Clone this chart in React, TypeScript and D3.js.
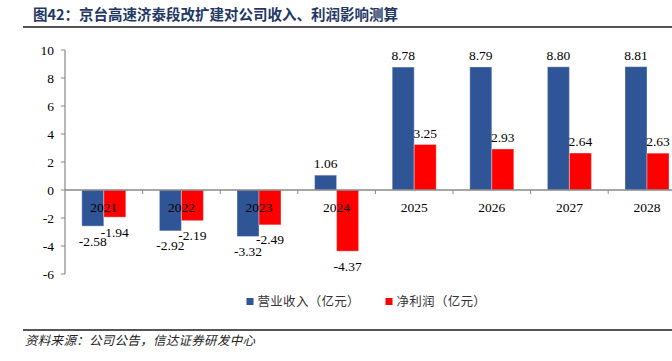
import React from "react";
import * as d3 from "d3";

// chart data
const years = ["2021", "2022", "2023", "2024", "2025", "2026", "2027", "2028"];
const revenue = [-2.58, -2.92, -3.32, 1.06, 8.78, 8.79, 8.8, 8.81];
const profit = [-1.94, -2.19, -2.49, -4.37, 3.25, 2.93, 2.64, 2.63];
const yTicks = [-6, -4, -2, 0, 2, 4, 6, 8, 10];
const seriesNames = ["营业收入（亿元）", "净利润（亿元）"];
const seriesColors = ["#2F5597", "#FF0000"];

const title = "图42：京台高速济泰段改扩建对公司收入、利润影响测算";
const source = "资料来源：公司公告，信达证券研发中心";

const W = 672;
const H = 361;
const numFont = "'Liberation Serif', 'Times New Roman', serif";
const cjkFont = "'Noto Sans CJK SC', sans-serif";

export default function App() {
  // plot area
  const left = 65;
  const step = 77.6;

  const y = d3.scaleLinear().domain([-6, 10]).range([274, 50]);
  const x0 = d3
    .scaleBand<string>()
    .domain(years)
    .range([left, left + step * years.length])
    .padding(0);
  const x1 = d3
    .scaleBand<string>()
    .domain(["rev", "pro"])
    .range([16.8, 16.8 + 44])
    .padding(0);

  const series = [
    { key: "rev", values: revenue, color: seriesColors[0] },
    { key: "pro", values: profit, color: seriesColors[1] },
  ];
  const zero = y(0);

  // legend placement: swatch x, per-character pitch (fixed-width like the original)
  const legendX = [246.5, 385.5];
  const pitch = 12.8;

  return (
    <div style={{ position: "absolute", left: 0, top: 0 }}>
      <style>{"body{margin:0}"}</style>
      <svg width={W} height={H} style={{ display: "block", background: "#fff" }}>
        {/* title */}
        <text
          x={33}
          y={20}
          textLength={365}
          lengthAdjust="spacing"
          style={{ fontFamily: cjkFont, fontSize: 14.5, fontWeight: "bold", fill: "#1F3864" }}
        >
          {title}
        </text>
        <line x1={23} x2={W} y1={27} y2={27} stroke="#555" strokeWidth={2} />

        {/* bars */}
        {series.map((s) =>
          s.values.map((v, i) => {
            const bx = x0(years[i])! + x1(s.key)!;
            const top = Math.min(y(v), zero);
            const h = Math.abs(y(v) - zero);
            return (
              <rect
                key={s.key + i}
                x={bx}
                y={top}
                width={x1.bandwidth()}
                height={h}
                fill={s.color}
                stroke="#ffffff"
                strokeOpacity={0.35}
                strokeWidth={1}
              />
            );
          })
        )}

        {/* y axis */}
        <line x1={left} x2={left} y1={y(10)} y2={y(-6)} stroke="#888" strokeWidth={1.2} />
        {yTicks.map((t) => (
          <g key={t}>
            <line x1={left - 4} x2={left} y1={y(t)} y2={y(t)} stroke="#888" strokeWidth={1} />
            <text
              x={54}
              y={y(t) + 4.5}
              textAnchor="end"
              style={{ fontFamily: numFont, fontSize: 13.5, fill: "#000" }}
            >
              {t}
            </text>
          </g>
        ))}

        {/* x axis */}
        <line x1={left} x2={left + step * years.length} y1={zero} y2={zero} stroke="#888" strokeWidth={1.5} />
        {years.map((yr, i) =>
          i === 0 ? null : (
            <line
              key={"t" + yr}
              x1={x0(yr)!}
              x2={x0(yr)!}
              y1={zero}
              y2={zero + 4}
              stroke="#888"
              strokeWidth={1}
            />
          )
        )}
        {years.map((yr) => (
          <text
            key={"l" + yr}
            x={x0(yr)! + x0.bandwidth() / 2}
            y={zero + 21.5}
            textAnchor="middle"
            style={{ fontFamily: numFont, fontSize: 13.5, fill: "#000" }}
          >
            {yr}
          </text>
        ))}

        {/* value labels */}
        {series.map((s) =>
          s.values.map((v, i) => {
            const cx = x0(years[i])! + x1(s.key)! + x1.bandwidth() / 2;
            const ly = v >= 0 ? y(v) - 7 : y(v) + 19.5;
            return (
              <text
                key={"v" + s.key + i}
                x={cx}
                y={ly}
                textAnchor="middle"
                style={{ fontFamily: numFont, fontSize: 13.5, fill: "#000" }}
              >
                {v.toFixed(2)}
              </text>
            );
          })
        )}

        {/* legend */}
        {seriesNames.map((name, i) => {
          const chars = Array.from(name);
          const xs = chars.map((_, k) => legendX[i] + 11 + k * pitch).join(" ");
          return (
            <g key={name}>
              <rect x={legendX[i]} y={298} width={7} height={7} fill={seriesColors[i]} />
              <text
                x={xs}
                y={306}
                style={{ fontFamily: cjkFont, fontSize: 12.5, fill: "#333" }}
              >
                {name}
              </text>
            </g>
          );
        })}

        {/* source */}
        <line x1={23} x2={W} y1={330} y2={330} stroke="#555" strokeWidth={2} />
        <text
          x={25}
          y={344.5}
          textLength={230}
          lengthAdjust="spacing"
          style={{ fontFamily: cjkFont, fontSize: 12.5, fontStyle: "italic", fill: "#222" }}
        >
          {source}
        </text>
      </svg>
    </div>
  );
}
